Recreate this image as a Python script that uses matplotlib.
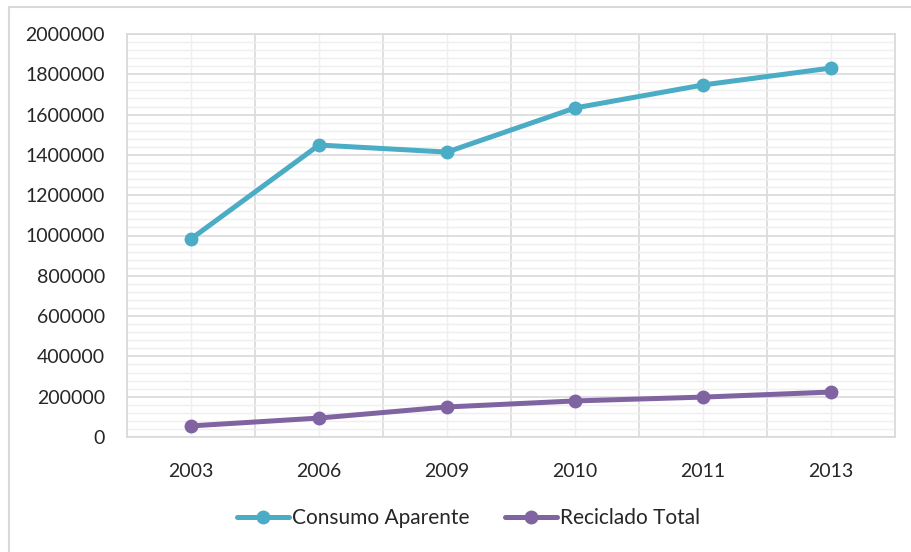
"""Consumo aparente vs reciclado total, Excel-style line chart"""
import matplotlib.pyplot as plt
from matplotlib.patches import Rectangle
from matplotlib.ticker import MultipleLocator, FixedLocator, StrMethodFormatter
import numpy as np

# Data
years = ["2003", "2006", "2009", "2010", "2011", "2013"]
consumo_aparente = [983000, 1449000, 1414000, 1633000, 1747000, 1831000]
reciclado_total = [55000, 94000, 149000, 179000, 198000, 223000]

plt.rcParams["font.family"] = ["Lato", "DejaVu Sans"]

fig = plt.figure(figsize=(9.11, 5.52), dpi=100)
ax = fig.add_axes([127 / 911, 115 / 552, 768 / 911, 403 / 552])

x = np.arange(len(years))
ax.plot(x, consumo_aparente, color="#4BACC6", lw=3.6, marker="o", ms=9,
        label="Consumo Aparente", solid_capstyle="round", zorder=3)
ax.plot(x, reciclado_total, color="#8064A2", lw=3.6, marker="o", ms=9,
        label="Reciclado Total", solid_capstyle="round", zorder=3)

ax.set_xlim(-0.5, len(years) - 0.5)
ax.set_ylim(0, 2000000)
ax.set_xticks(x)
ax.set_xticklabels(years)
ax.xaxis.set_minor_locator(FixedLocator(np.arange(-0.5, len(years), 1.0)))
ax.yaxis.set_major_locator(MultipleLocator(200000))
ax.yaxis.set_minor_locator(MultipleLocator(40000))
ax.yaxis.set_major_formatter(StrMethodFormatter("{x:.0f}"))

# gridlines: major horizontals darker, minor lighter; vertical at boundaries and centres
ax.grid(which="major", axis="y", color="#D9D9D9", lw=1.2, zorder=1)
ax.grid(which="minor", axis="y", color="#EFEFEF", lw=1.0, zorder=0)
ax.grid(which="minor", axis="x", color="#D9D9D9", lw=1.2, zorder=1)
ax.grid(which="major", axis="x", color="#EFEFEF", lw=1.0, zorder=0)
ax.set_axisbelow(True)

for s in ax.spines.values():
    s.set_color("#D9D9D9")
    s.set_linewidth(1.2)

ax.tick_params(which="both", length=0, labelsize=14, colors="#262626")
ax.tick_params(axis="y", pad=16)
ax.tick_params(axis="x", pad=19)

leg = fig.legend(loc="center", bbox_to_anchor=(468.5 / 911, 34 / 552), ncol=2,
                 frameon=False, fontsize=15, handlelength=2.5, columnspacing=1.7,
                 handletextpad=0.15, labelcolor="#262626")

# chart border (only left/top visible in the crop)
fig.patches.append(Rectangle((8.5 / 911, -0.1), 1.2, (552 - 6.5) / 552 + 0.1,
                             transform=fig.transFigure, fill=False,
                             edgecolor="#D9D9D9", lw=1.5))

fig.savefig("out.png", dpi=100)
